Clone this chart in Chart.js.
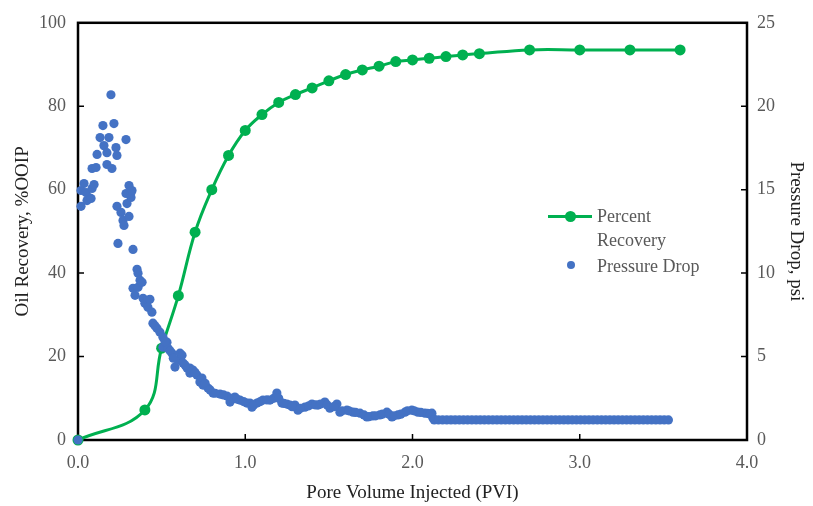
<!DOCTYPE html>
<html>
<head>
<meta charset="utf-8">
<script src="https://cdn.jsdelivr.net/npm/chart.js@4.4.1/dist/chart.umd.min.js"></script>
<style>
  html, body { margin: 0; padding: 0; background: #fff; }
  #wrap { position: relative; width: 813px; height: 506px; }
  .lg { position: absolute; font-family: 'Liberation Serif', 'Times New Roman', serif; font-size: 18px; line-height: 24px; color: #595959; white-space: nowrap; }
  .sw { position: absolute; }
</style>
</head>
<body>
<div id="wrap">
  <canvas id="chart" width="813" height="506"></canvas>
  <div class="sw" style="left:548px;top:214.5px;width:44px;height:3px;background:#00B050"></div>
  <div class="sw" style="left:564.5px;top:210.5px;width:11px;height:11px;border-radius:50%;background:#00B050"></div>
  <div class="lg" style="left:597px;top:204px">Percent<br>Recovery</div>
  <div class="sw" style="left:567px;top:261px;width:8px;height:8px;border-radius:50%;background:#4472C4"></div>
  <div class="lg" style="left:597px;top:254px">Pressure Drop</div>
</div>
<script>
// Percent Recovery (left axis, %OOIP)
const recoveryPvi = [0, 0.4, 0.5, 0.6, 0.7, 0.8, 0.9, 1.0, 1.1, 1.2, 1.3, 1.4, 1.5, 1.6, 1.7, 1.8, 1.9, 2.0, 2.1, 2.2, 2.3, 2.4, 2.7, 3.0, 3.3, 3.6];
const recoveryPct = [0, 7.2, 22.0, 34.6, 49.8, 60.0, 68.2, 74.2, 78.0, 80.9, 82.8, 84.4, 86.1, 87.6, 88.7, 89.6, 90.7, 91.1, 91.5, 91.9, 92.3, 92.6, 93.5, 93.5, 93.5, 93.5];

// Pressure Drop (right axis, psi)
const pressurePvi = [0, 0.018, 0.018, 0.036, 0.048, 0.054, 0.066, 0.078, 0.084, 0.084, 0.096, 0.108, 0.114, 0.132, 0.149, 0.155,
  0.173, 0.173, 0.185, 0.197, 0.203, 0.215, 0.227, 0.233, 0.233, 0.239, 0.257, 0.269, 0.275, 0.287, 0.287, 0.293,
  0.305, 0.305, 0.317, 0.317, 0.323, 0.329, 0.329, 0.341, 0.353, 0.359, 0.359, 0.371, 0.383, 0.389, 0.400, 0.418,
  0.418, 0.430, 0.442, 0.448, 0.472, 0.490, 0.508, 0.508, 0.532, 0.538, 0.562, 0.580, 0.598, 0.610, 0.622, 0.628,
  0.652, 0.669, 0.669, 0.687, 0.711, 0.729, 0.741, 0.747, 0.777, 0.807, 0.849, 0.891, 0.909, 0.938, 0.968, 1.010,
  1.028, 1.040, 1.070, 1.106, 1.148, 1.189, 1.219, 1.249, 1.267, 1.297, 1.315, 1.357, 1.399, 1.435, 1.476, 1.506,
  1.548, 1.566, 1.608, 1.644, 1.686, 1.727, 1.763, 1.805, 1.847, 1.877, 1.913, 1.955, 1.996, 2.032, 2.074, 2.116, 2.122,
  0.46, 0.52, 0.55, 0.57, 0.64, 0.70, 0.76, 0.79, 0.82, 0.87, 0.92, 0.95, 0.99, 1.05, 1.09, 1.13, 1.17, 1.20,
  1.23, 1.28, 1.33, 1.38, 1.42, 1.45, 1.49, 1.53, 1.58, 1.62, 1.66, 1.71, 1.74, 1.78, 1.82, 1.86, 1.89, 1.93,
  1.97, 2.01, 2.05, 2.09, 2.105];
const pressurePsi = [0, 14.0, 14.95, 15.37, 14.83, 14.35, 14.53, 14.47, 15.07, 16.27, 15.31, 16.33, 17.11, 18.12, 18.84, 17.64,
  17.22, 16.51, 18.12, 20.69, 16.27, 18.96, 17.52, 17.05, 14.0, 11.78, 13.64, 13.16, 12.86, 18.0, 14.77, 14.17,
  15.25, 13.4, 14.83, 14.53, 14.95, 11.42, 9.09, 8.67, 10.23, 9.99, 9.15, 9.57, 9.45, 8.49, 8.19, 8.37,
  7.95, 8.43, 7.66, 7.0, 6.70, 6.46, 6.16, 5.56, 5.86, 5.50, 5.20, 4.37, 4.78, 5.20, 5.08, 4.61,
  4.31, 4.31, 4.01, 4.19, 3.89, 3.47, 3.71, 3.29, 3.11, 2.81, 2.75, 2.63, 2.27, 2.57, 2.39, 2.21,
  2.21, 1.97, 2.21, 2.39, 2.39, 2.81, 2.21, 2.15, 2.09, 2.09, 1.79, 1.97, 2.15, 2.09, 2.27, 1.91,
  2.15, 1.67, 1.79, 1.67, 1.61, 1.38, 1.44, 1.50, 1.67, 1.38, 1.50, 1.67, 1.79, 1.67, 1.61, 1.61, 1.32,
  6.85, 5.9, 5.35, 4.9, 4.5, 4.05, 3.4, 3.0, 2.8, 2.7, 2.5, 2.45, 2.3, 2.1, 2.3, 2.4, 2.5, 2.5,
  2.2, 2.0, 1.9, 2.05, 2.1, 2.15, 2.1, 2.0, 1.75, 1.75, 1.65, 1.5, 1.4, 1.45, 1.55, 1.55, 1.45, 1.55,
  1.75, 1.75, 1.65, 1.6, 1.55];

// flat tail of the pressure record
const plateauPvi = [2.13, 2.155, 2.18, 2.205, 2.23, 2.255, 2.28, 2.305, 2.33, 2.355, 2.38, 2.405, 2.43, 2.455, 2.48, 2.505,
  2.53, 2.555, 2.58, 2.605, 2.63, 2.655, 2.68, 2.705, 2.73, 2.755, 2.78, 2.805, 2.83, 2.855, 2.88, 2.905, 2.93, 2.955,
  2.98, 3.005, 3.03, 3.055, 3.08, 3.105, 3.13, 3.155, 3.18, 3.205, 3.23, 3.255, 3.28, 3.305, 3.33, 3.355, 3.38, 3.405,
  3.43, 3.455, 3.48, 3.505, 3.53];
const plateauPsi = [1.2, 1.2, 1.2, 1.2, 1.2, 1.2, 1.2, 1.2, 1.2, 1.2, 1.2, 1.2, 1.2, 1.2, 1.2, 1.2,
  1.2, 1.2, 1.2, 1.2, 1.2, 1.2, 1.2, 1.2, 1.2, 1.2, 1.2, 1.2, 1.2, 1.2, 1.2, 1.2, 1.2, 1.2,
  1.2, 1.2, 1.2, 1.2, 1.2, 1.2, 1.2, 1.2, 1.2, 1.2, 1.2, 1.2, 1.2, 1.2, 1.2, 1.2, 1.2, 1.2,
  1.2, 1.2, 1.2, 1.2, 1.2];

const xTicks = [0, 1, 2, 3, 4];
const yTicks = [0, 20, 40, 60, 80, 100];
const y2Ticks = [0, 5, 10, 15, 20, 25];

const GREEN = '#00B050';
const BLUE = '#4472C4';
const SERIF = "'Liberation Serif', 'Times New Roman', serif";

const recoveryPts = recoveryPvi.map((x, i) => ({ x, y: recoveryPct[i] }));
const allPvi = pressurePvi.concat(plateauPvi);
const allPsi = pressurePsi.concat(plateauPsi);
const pressurePts = allPvi.map((x, i) => ({ x, y: allPsi[i] }));

// frame + inward tick marks, like the spreadsheet original
const frame = {
  id: 'frame',
  beforeDatasetsDraw(chart) {
    const { ctx, chartArea: a, scales } = chart;
    ctx.save();
    ctx.strokeStyle = '#000';
    ctx.lineWidth = 1.5;
    ctx.beginPath();
    xTicks.forEach(v => {
      const px = scales.x.getPixelForValue(v);
      ctx.moveTo(px, a.bottom); ctx.lineTo(px, a.bottom - 6);
    });
    yTicks.forEach(v => {
      const py = scales.y.getPixelForValue(v);
      ctx.moveTo(a.left, py); ctx.lineTo(a.left + 6, py);
    });
    y2Ticks.forEach(v => {
      const py = scales.y2.getPixelForValue(v);
      ctx.moveTo(a.right, py); ctx.lineTo(a.right - 6, py);
    });
    ctx.stroke();
    ctx.lineWidth = 2.5;
    ctx.strokeRect(a.left, a.top, a.right - a.left, a.bottom - a.top);
    ctx.restore();
  }
};

new Chart(document.getElementById('chart'), {
  type: 'scatter',
  data: {
    datasets: [
      {
        label: 'Pressure Drop',
        data: pressurePts,
        yAxisID: 'y2',
        backgroundColor: BLUE,
        borderWidth: 0,
        pointRadius: 4.6,
        clip: false
      },
      {
        label: 'Percent Recovery',
        data: recoveryPts,
        yAxisID: 'y',
        type: 'line',
        showLine: true,
        borderColor: GREEN,
        backgroundColor: GREEN,
        borderWidth: 3,
        tension: 0.4,
        pointRadius: 5.5,
        pointBorderWidth: 0,
        clip: false
      }
    ]
  },
  options: {
    responsive: false,
    animation: false,
    layout: { padding: { top: 22, left: 0, right: 0, bottom: 0 } },
    plugins: { legend: { display: false }, tooltip: { enabled: false } },
    scales: {
      x: {
        type: 'linear', min: 0, max: 4,
        afterFit(s) { s.height = 66; },
        afterBuildTicks(s) { s.ticks = xTicks.map(v => ({ value: v })); },
        grid: { display: false, drawTicks: false },
        border: { display: false },
        ticks: { padding: 12, color: '#595959', font: { family: SERIF, size: 18 }, callback: v => v.toFixed(1) },
        title: { display: true, text: 'Pore Volume Injected (PVI)', color: '#222', font: { family: SERIF, size: 19 }, padding: { top: 2, bottom: 2 } }
      },
      y: {
        type: 'linear', position: 'left', min: 0, max: 100,
        afterFit(s) { s.width = 78; },
        afterBuildTicks(s) { s.ticks = yTicks.map(v => ({ value: v })); },
        grid: { display: false, drawTicks: false },
        border: { display: false },
        ticks: { padding: 12, color: '#595959', font: { family: SERIF, size: 18 } },
        title: { display: true, text: 'Oil Recovery, %OOIP', color: '#222', font: { family: SERIF, size: 19 }, padding: { top: 12, bottom: 2 } }
      },
      y2: {
        type: 'linear', position: 'right', min: 0, max: 25,
        afterFit(s) { s.width = 66; },
        afterBuildTicks(s) { s.ticks = y2Ticks.map(v => ({ value: v })); },
        grid: { display: false, drawTicks: false },
        border: { display: false },
        ticks: { padding: 10, color: '#595959', font: { family: SERIF, size: 18 } },
        title: { display: true, text: 'Pressure Drop, psi', color: '#222', font: { family: SERIF, size: 19 }, padding: { top: 6, bottom: 2 } }
      }
    }
  },
  plugins: [frame]
});
</script>
</body>
</html>
